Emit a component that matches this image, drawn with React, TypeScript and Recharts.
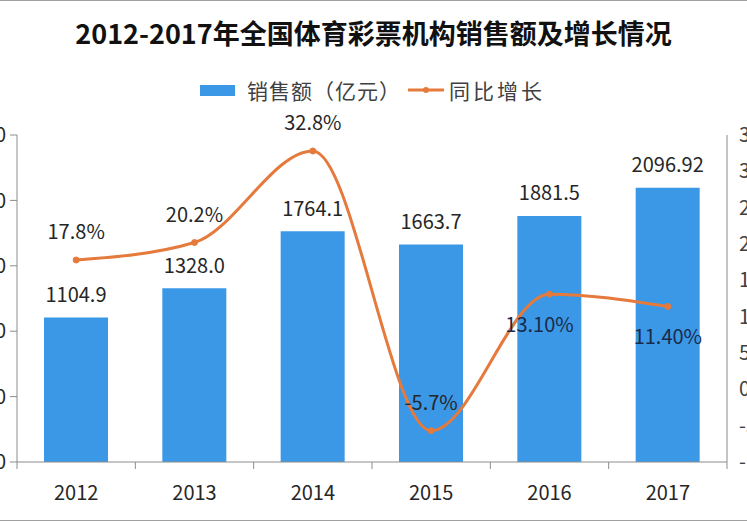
import React from 'react';
import { ComposedChart, Bar, Line, XAxis, YAxis, LabelList } from 'recharts';

const years = ['2012', '2013', '2014', '2015', '2016', '2017'];
const sales = [1104.9, 1328.0, 1764.1, 1663.7, 1881.5, 2096.92];
const salesLabels = ['1104.9', '1328.0', '1764.1', '1663.7', '1881.5', '2096.92'];
const growth = [17.8, 20.2, 32.8, -5.7, 13.1, 11.4];
const growthLabels = ['17.8%', '20.2%', '32.8%', '-5.7%', '13.10%', '11.40%'];
const leftTicks = [0, 500, 1000, 1500, 2000, 2500];
const rightTicks = [-10, -5, 0, 5, 10, 15, 20, 25, 30, 35];

const data = years.map((y, i) => ({
  year: y,
  sales: sales[i],
  salesLabel: salesLabels[i],
  growth: growth[i],
  growthLabel: growthLabels[i],
}));

const SHIFT = 40;
const CW = 747 + SHIFT * 2;
const CH = 523;
const PLOT_LEFT = 57;
const PLOT_RIGHT = 767;
const BW = (PLOT_RIGHT - PLOT_LEFT) / years.length;
const FONT = '"Noto Sans CJK SC", "Noto Sans", sans-serif';
const AXIS = '#8c8c8c';
const BLUE = '#3b98e6';
const ORANGE = '#e57a3c';
const TEXT = '#262626';

const XTick = (props: any) => {
  const { x, y, payload, index } = props;
  return (
    <g>
      <line x1={x - BW / 2} x2={x - BW / 2} y1={y} y2={y + 7} stroke={AXIS} strokeWidth={1} />
      {index === years.length - 1 && (
        <line x1={x + BW / 2} x2={x + BW / 2} y1={y} y2={y + 7} stroke={AXIS} strokeWidth={1} />
      )}
      <text x={x} y={y + 29} textAnchor="middle" dominantBaseline="central" fontSize={20} fill={TEXT} fontFamily={FONT}>
        {payload.value}
      </text>
    </g>
  );
};

const BarLabel = (p: any) => (
  <text x={p.x + p.width / 2} y={p.y - 24} textAnchor="middle" dominantBaseline="central" fontSize={20} fill={TEXT} fontFamily={FONT}>
    {p.value}
  </text>
);

const LineLabel = (p: any) => {
  const below = p.index >= 4;
  const dx = p.index === 4 ? -10 : 0;
  return (
    <text
      x={p.x + dx}
      y={below ? p.y + 29 : p.y - 29}
      textAnchor="middle"
      dominantBaseline="central"
      fontSize={20}
      fill={below ? '#1c2a4a' : TEXT}
      fontFamily={FONT}
    >
      {p.value}
    </text>
  );
};

export default function App() {
  return (
    <div style={{ position: 'absolute', left: 0, top: 0, width: 747, height: 523, overflow: 'hidden', background: '#fff', fontFamily: FONT }}>
      <div style={{ position: 'absolute', left: 0, top: 0, width: 747, height: 1, background: '#a0a0a0' }} />
      <div style={{ position: 'absolute', left: 0, top: 520, width: 747, height: 1, background: '#a0a0a0' }} />
      <div style={{ position: 'absolute', left: 0, top: 14, width: 747, textAlign: 'center', fontSize: 27, fontWeight: 'bold', color: '#111', lineHeight: '38px' }}>
        2012-2017年全国体育彩票机构销售额及增长情况
      </div>
      <div style={{ position: 'absolute', left: 200, top: 75, height: 30, display: 'flex', alignItems: 'center', fontSize: 21, color: '#404040', whiteSpace: 'nowrap' }}>
        <div style={{ width: 35, height: 11, background: BLUE, marginRight: 12 }} />
        <span style={{ letterSpacing: 1 }}>销售额（亿元）</span>
        <svg width={36} height={12} style={{ marginLeft: 7, marginRight: 5 }}>
          <line x1={0} x2={36} y1={6} y2={6} stroke={ORANGE} strokeWidth={3} />
          <circle cx={18} cy={6} r={3} fill={ORANGE} />
        </svg>
        <span style={{ letterSpacing: 3 }}>同比增长</span>
      </div>
      <div style={{ position: 'absolute', left: -SHIFT, top: 0 }}>
        <ComposedChart width={CW} height={CH} data={data} margin={{ top: 135, right: 0, bottom: 21, left: 0 }} barCategoryGap={27}>
          <XAxis
            dataKey="year"
            xAxisId={0}
            height={40}
            interval={0}
            tickLine={false}
            tickSize={0}
            tickMargin={0}
            axisLine={{ stroke: AXIS, strokeWidth: 1 }}
            tick={<XTick />}
          />
          <YAxis
            yAxisId="left"
            orientation="left"
            width={PLOT_LEFT}
            domain={[0, 2500]}
            ticks={leftTicks}
            interval={0}
            tickSize={7}
            tickMargin={4}
            axisLine={{ stroke: AXIS }}
            tickLine={{ stroke: AXIS }}
            tick={{ fontSize: 20, fill: TEXT, fontFamily: FONT }}
          />
          <YAxis
            yAxisId="right"
            orientation="right"
            width={CW - PLOT_RIGHT}
            domain={[-10, 35]}
            ticks={rightTicks}
            interval={0}
            tickSize={0}
            tickMargin={12}
            tickLine={false}
            axisLine={{ stroke: AXIS }}
            tick={{ fontSize: 20, fill: '#404040', fontFamily: FONT, textAnchor: 'start' }}
          />
          <Bar yAxisId="left" dataKey="sales" fill={BLUE} barSize={64} isAnimationActive={false}>
            <LabelList dataKey="salesLabel" content={<BarLabel />} />
          </Bar>
          <Line
            yAxisId="right"
            dataKey="growth"
            type="monotone"
            stroke={ORANGE}
            strokeWidth={3}
            dot={{ r: 3, fill: ORANGE, stroke: ORANGE, strokeWidth: 1 }}
            activeDot={false}
            isAnimationActive={false}
          >
            <LabelList dataKey="growthLabel" content={<LineLabel />} />
          </Line>
        </ComposedChart>
      </div>
    </div>
  );
}
